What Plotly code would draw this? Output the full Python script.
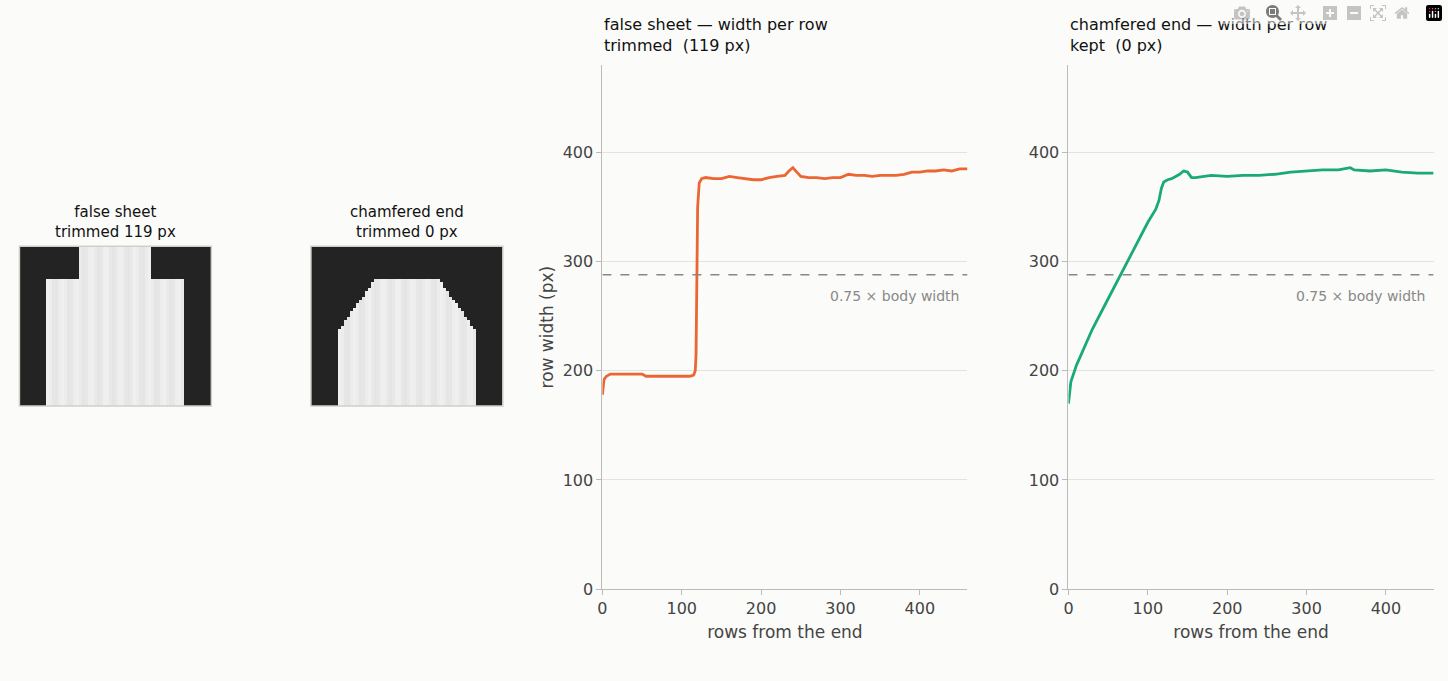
import numpy as np
import plotly.graph_objects as go

# row-width profiles (rows from the end -> width in px)
fs_rows = [0, 2, 5, 10, 30, 50, 55, 80, 110, 115, 117, 118, 119, 120, 122, 125, 130, 140, 150, 160, 170, 180, 190, 200, 210, 220, 230, 235, 240, 245, 250, 260, 270, 280, 290, 300, 310, 320, 330, 340, 350, 360, 370, 380, 390, 400, 410, 420, 430, 440, 450, 460]
fs_width = [178, 192, 195, 197, 197, 197, 195, 195, 195, 196, 200, 215, 280, 350, 372, 376, 377, 376, 376, 378, 377, 376, 375, 375, 377, 378, 379, 383, 386, 382, 378, 377, 377, 376, 377, 377, 380, 379, 379, 378, 379, 379, 379, 380, 382, 382, 383, 383, 384, 383, 385, 385]
ch_rows = [0, 3, 10, 20, 30, 40, 50, 60, 70, 80, 90, 100, 110, 114, 117, 120, 125, 130, 140, 145, 150, 155, 160, 170, 180, 200, 220, 240, 260, 280, 300, 320, 340, 355, 360, 380, 400, 420, 440, 460]
ch_width = [170, 190, 205, 222, 238, 252, 266, 280, 293, 308, 322, 336, 348, 356, 367, 373, 375, 376, 380, 383, 382, 377, 377, 378, 379, 378, 379, 379, 380, 382, 383, 384, 384, 386, 384, 383, 384, 382, 381, 381]
threshold = 288
line_titles = ["false sheet — width per row<br>trimmed  (119 px)", "chamfered end — width per row<br>kept  (0 px)"]
line_colors = ["#ec6633", "#1aa97a"]

# thumbnails: bright strip width per image row (image units, 64 cols x 54 rows)
img_titles = ["false sheet<br>trimmed 119 px", "chamfered end<br>trimmed 0 px"]
fs_img_rows = [0, 10, 11, 53]
fs_img_width = [24, 24, 47, 47]
ch_img_rows = [0, 10, 11, 29, 53]
ch_img_width = [0, 0, 22, 47, 47]

BG = "#fbfbf9"
fig = go.Figure()


def thumb(rows, widths):
    nr, nc = 54, 64
    r = np.arange(nr)
    w = np.interp(r, rows, widths)
    c = np.arange(nc) + 0.5
    z = np.full((nr, nc), 30.0)
    for i in range(nr):
        inside = np.abs(c - nc / 2) < w[i] / 2
        z[i, inside] = 215 + 8 * np.cos(c[inside] * 1.3)
    return z


imgs = [thumb(fs_img_rows, fs_img_width), thumb(ch_img_rows, ch_img_width)]
img_dom = [[0.010, 0.143], [0.212, 0.345]]
for k in range(2):
    ax = "" if k == 0 else str(k + 1)
    fig.add_trace(go.Heatmap(z=imgs[k], colorscale="Greys", reversescale=True, zmin=0, zmax=255,
                             showscale=False, xaxis="x" + ax, yaxis="y" + ax, hoverinfo="skip"))
    fig.update_layout({
        "xaxis" + ax: dict(domain=img_dom[k], visible=False, range=[-0.5, 63.5]),
        "yaxis" + ax: dict(domain=[0.395, 0.633], visible=False, range=[53.5, -0.5]),
    })
    fig.add_shape(type="rect", xref="paper", yref="paper", x0=img_dom[k][0], x1=img_dom[k][1],
                  y0=0.395, y1=0.633, line=dict(color="#d0d0ca", width=1.5))
    fig.add_annotation(text=img_titles[k], xref="paper", yref="paper", x=sum(img_dom[k]) / 2, y=0.638,
                       xanchor="center", yanchor="bottom", showarrow=False, font=dict(size=15, color="#111"))

plot_dom = [[0.414, 0.667], [0.737, 0.990]]
series = [(fs_rows, fs_width), (ch_rows, ch_width)]
for k in range(2):
    ax = str(k + 3)
    fig.add_trace(go.Scatter(x=series[k][0], y=series[k][1], mode="lines", xaxis="x" + ax, yaxis="y" + ax,
                             line=dict(color=line_colors[k], width=2.8), showlegend=False))
    fig.add_trace(go.Scatter(x=[0, 460], y=[threshold, threshold], mode="lines", xaxis="x" + ax, yaxis="y" + ax,
                             line=dict(color="#888", width=1.6, dash="dash"), showlegend=False))
    fig.update_layout({
        "xaxis" + ax: dict(domain=plot_dom[k], anchor="y" + ax, range=[0, 460], dtick=100, ticks="outside",
                           showline=True, linecolor="#bbb", tickcolor="#bbb", showgrid=False, zeroline=False,
                           title=dict(text="rows from the end", font=dict(size=17, color="#444"), standoff=8),
                           tickfont=dict(size=16, color="#444")),
        "yaxis" + ax: dict(domain=[0.122, 0.903], anchor="x" + ax, range=[0, 480], dtick=100, ticks="outside",
                           showline=True, linecolor="#bbb", tickcolor="#bbb", gridcolor="#e2e2de", zeroline=False,
                           tickfont=dict(size=16, color="#444"),
                           title=dict(text="row width (px)" if k == 0 else "", font=dict(size=17, color="#444"),
                                      standoff=4)),
    })
    fig.add_annotation(text="0.75 × body width", xref="x" + ax, yref="y" + ax, x=452, y=threshold - 10,
                       xanchor="right", yanchor="top", showarrow=False, font=dict(size=14, color="#888"))
    fig.add_annotation(text=line_titles[k], xref="paper", yref="paper", x=plot_dom[k][0], y=0.915,
                       xanchor="left", yanchor="bottom", align="left", showarrow=False,
                       font=dict(size=16, color="#111"))

fig.update_layout(width=1448, height=681, paper_bgcolor=BG, plot_bgcolor=BG,
                  margin=dict(l=0, r=0, t=0, b=0), font=dict(family="DejaVu Sans"))
fig.write_html("out.html", post_script="document.body.style.margin='0';")
